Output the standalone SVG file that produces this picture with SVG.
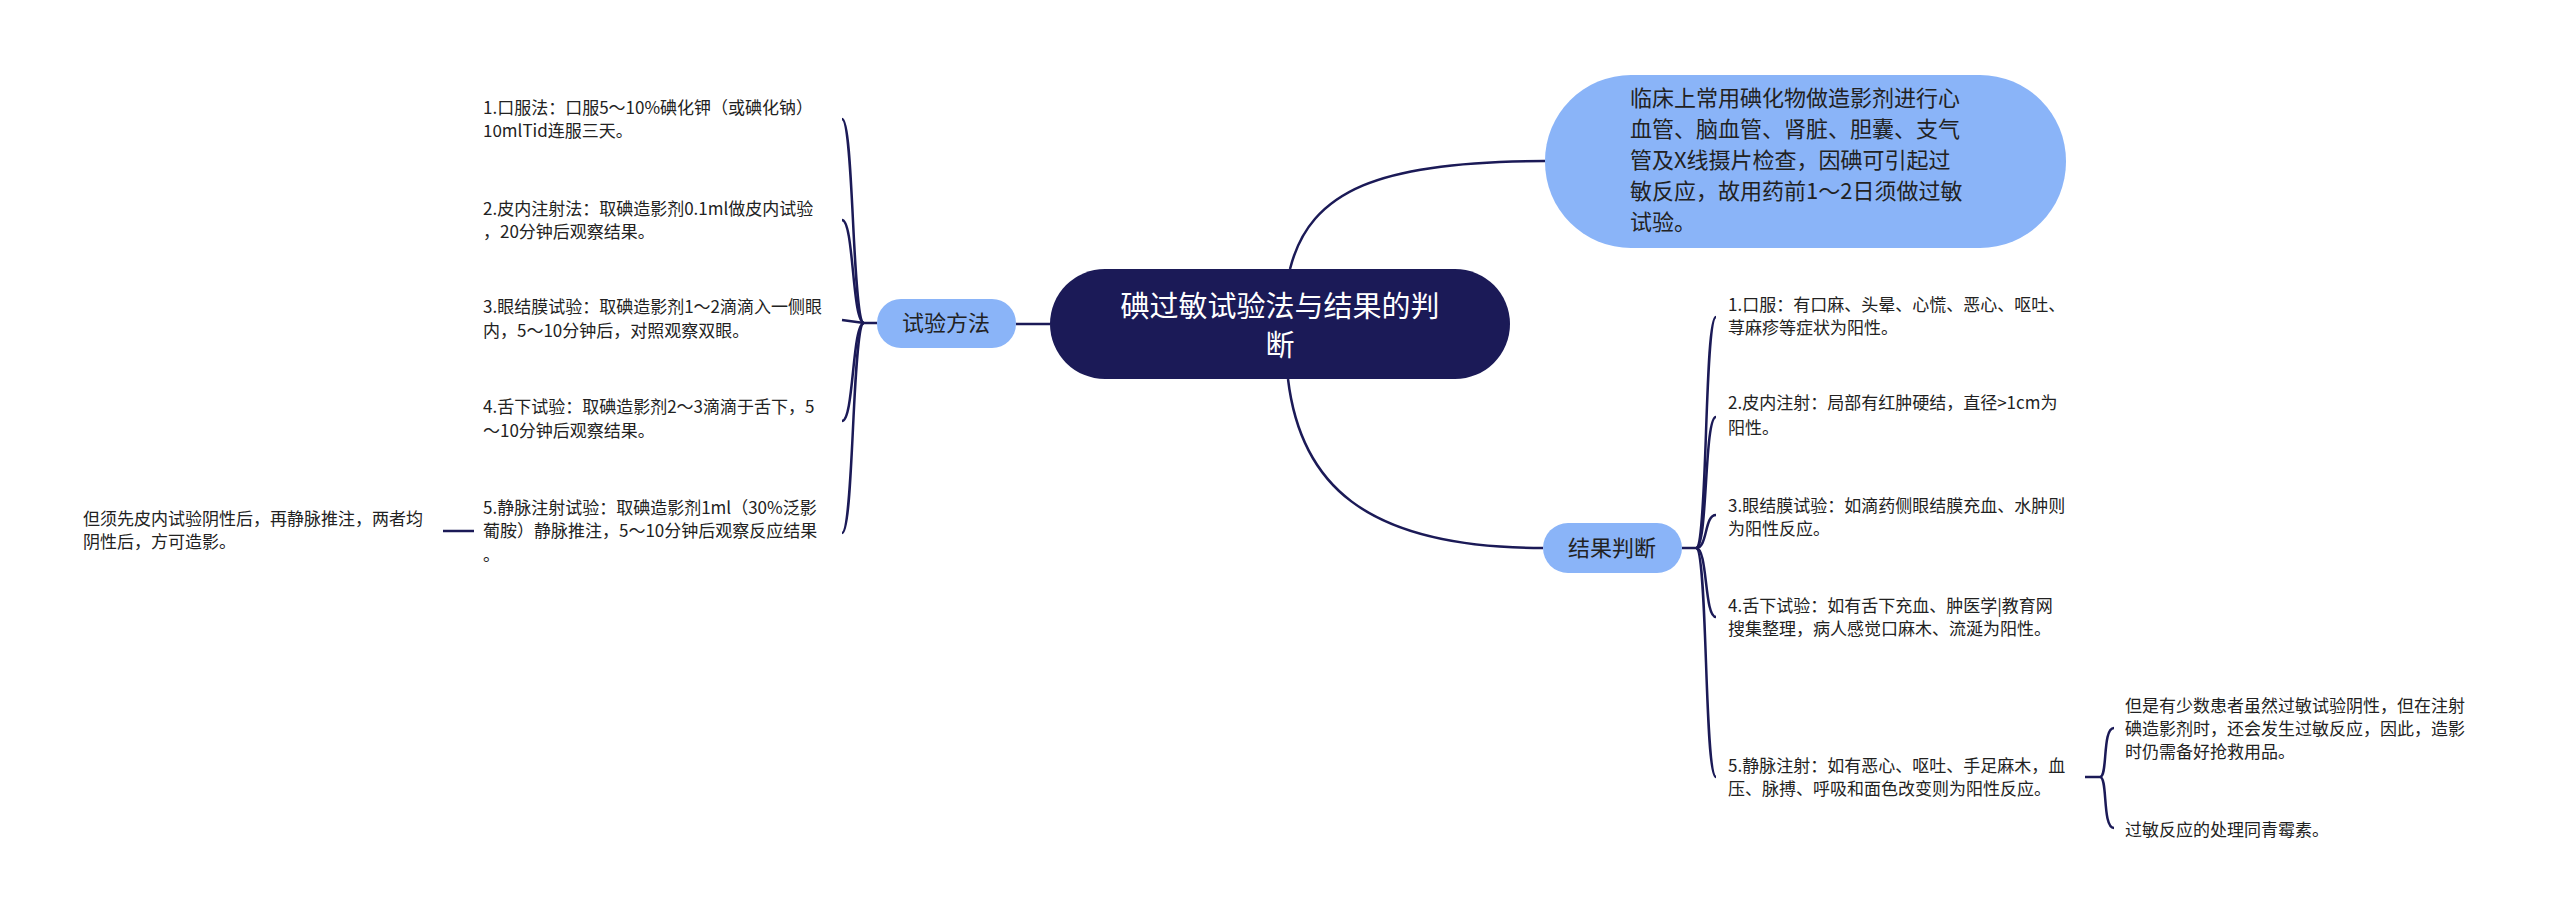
<svg xmlns="http://www.w3.org/2000/svg" width="2560" height="923" viewBox="0 0 2560 923">
<style>
.t{font-family:"Noto Sans CJK SC","Noto Sans",sans-serif;fill:#222;font-size:17px}
.m{font-family:"Noto Sans CJK SC","Noto Sans",sans-serif;fill:#222;font-size:22px}
.c{fill:none;stroke:#1b1a57;stroke-width:2.5}
</style>
<rect width="2560" height="923" fill="#fff"/>
<g id="connectors">
<path class="c" d="M1050 324 L1016 324"/>
<path class="c" d="M1290 269 C1310 190 1380 161 1545 161"/>
<path class="c" d="M1288 379 C1300 480 1360 548 1543 548"/>
<path class="c" d="M877 323 L864 323"/>
<path class="c" d="M864 323 C852 323 854 119 842 119"/>
<path class="c" d="M864 323 C852 323 854 220 842 220"/>
<path class="c" d="M864 323 L842 320"/>
<path class="c" d="M864 323 C852 323 854 421 842 421"/>
<path class="c" d="M864 323 C852 323 854 533 842 533"/>
<path class="c" d="M443 531 L474 531"/>
<path class="c" d="M1682 548 L1696 548"/>
<path class="c" d="M1696 548 C1708 548 1704 317 1716 317"/>
<path class="c" d="M1696 548 C1708 548 1704 417 1716 417"/>
<path class="c" d="M1696 548 C1708 548 1704 515 1716 515"/>
<path class="c" d="M1696 548 C1708 548 1704 617 1716 617"/>
<path class="c" d="M1696 548 C1708 548 1704 777 1716 777"/>
<path class="c" d="M2085 777 L2100 777"/>
<path class="c" d="M2100 777 C2108 777 2102 728 2114 728"/>
<path class="c" d="M2100 777 C2108 777 2102 828 2114 828"/>
</g>
<g id="root">
<rect x="1050" y="269" width="460" height="110" rx="55" fill="#1b1a57"/>
<text x="1280" y="317" text-anchor="middle" font-family="Noto Sans CJK SC,sans-serif" font-size="29" fill="#fff">碘过敏试验法与结果的判</text>
<text x="1280" y="356" text-anchor="middle" font-family="Noto Sans CJK SC,sans-serif" font-size="29" fill="#fff">断</text>
</g>
<g id="intro">
<rect x="1545" y="75" width="521" height="173" rx="86" fill="#8ab4f8"/>
<text class="m" x="1630" y="106">临床上常用碘化物做造影剂进行心</text>
<text class="m" x="1630" y="137">血管、脑血管、肾脏、胆囊、支气</text>
<text class="m" x="1630" y="168">管及X线摄片检查，因碘可引起过</text>
<text class="m" x="1630" y="199">敏反应，故用药前1～2日须做过敏</text>
<text class="m" x="1630" y="230">试验。</text>
</g>
<g id="method">
<rect x="877" y="299" width="139" height="49" rx="24" fill="#8ab4f8"/>
<text class="m" x="946" y="331" text-anchor="middle">试验方法</text>
</g>
<g id="result">
<rect x="1543" y="523" width="139" height="50" rx="25" fill="#8ab4f8"/>
<text class="m" x="1612" y="556" text-anchor="middle">结果判断</text>
</g>
<g id="m1"><text class="t" x="483" y="114">1.口服法：口服5～10%碘化钾（或碘化钠）</text><text class="t" x="483" y="137">10mlTid连服三天。</text></g>
<g id="m2"><text class="t" x="483" y="215">2.皮内注射法：取碘造影剂0.1ml做皮内试验</text><text class="t" x="483" y="238">，20分钟后观察结果。</text></g>
<g id="m3"><text class="t" x="483" y="313">3.眼结膜试验：取碘造影剂1～2滴滴入一侧眼</text><text class="t" x="483" y="337">内，5～10分钟后，对照观察双眼。</text></g>
<g id="m4"><text class="t" x="483" y="413">4.舌下试验：取碘造影剂2～3滴滴于舌下，5</text><text class="t" x="483" y="437">～10分钟后观察结果。</text></g>
<g id="m5"><text class="t" x="483" y="514">5.静脉注射试验：取碘造影剂1ml（30%泛影</text><text class="t" x="483" y="537">葡胺）静脉推注，5～10分钟后观察反应结果</text><text class="t" x="483" y="561">。</text></g>
<g id="m5a"><text class="t" x="83" y="525">但须先皮内试验阴性后，再静脉推注，两者均</text><text class="t" x="83" y="548">阴性后，方可造影。</text></g>
<g id="r1"><text class="t" x="1728" y="311">1.口服：有口麻、头晕、心慌、恶心、呕吐、</text><text class="t" x="1728" y="334">荨麻疹等症状为阳性。</text></g>
<g id="r2"><text class="t" x="1728" y="409">2.皮内注射：局部有红肿硬结，直径&gt;1cm为</text><text class="t" x="1728" y="434">阳性。</text></g>
<g id="r3"><text class="t" x="1728" y="512">3.眼结膜试验：如滴药侧眼结膜充血、水肿则</text><text class="t" x="1728" y="535">为阳性反应。</text></g>
<g id="r4"><text class="t" x="1728" y="612">4.舌下试验：如有舌下充血、肿医学|教育网</text><text class="t" x="1728" y="635">搜集整理，病人感觉口麻木、流涎为阳性。</text></g>
<g id="r5"><text class="t" x="1728" y="772">5.静脉注射：如有恶心、呕吐、手足麻木，血</text><text class="t" x="1728" y="795">压、脉搏、呼吸和面色改变则为阳性反应。</text></g>
<g id="r5a"><text class="t" x="2125" y="712">但是有少数患者虽然过敏试验阴性，但在注射</text><text class="t" x="2125" y="735">碘造影剂时，还会发生过敏反应，因此，造影</text><text class="t" x="2125" y="758">时仍需备好抢救用品。</text></g>
<g id="r5b"><text class="t" x="2125" y="836">过敏反应的处理同青霉素。</text></g>
</svg>
